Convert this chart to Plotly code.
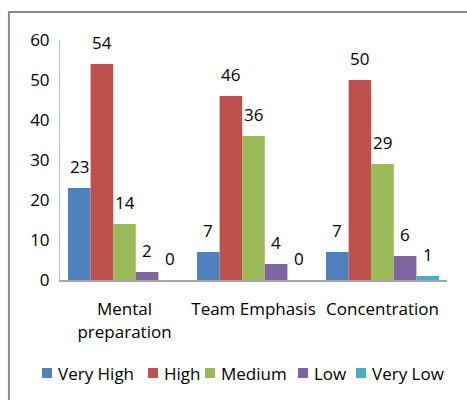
import plotly.graph_objects as go

categories = ["Mental<br>preparation", "Team Emphasis", "Concentration"]
series_names = ["Very High", "High", "Medium", "Low", "Very Low"]
very_high = [23, 7, 7]
high = [54, 46, 50]
medium = [14, 36, 29]
low = [2, 4, 6]
very_low = [0, 0, 1]
y_ticks = [0, 10, 20, 30, 40, 50, 60]

colors = ["#4F81BD", "#C0504D", "#9BBB59", "#8064A2", "#4BACC6"]
values = [very_high, high, medium, low, very_low]

FONT = "Open Sans, sans-serif"
FS = 17
BARGAP = 0.124
W, H = 467, 400
ML, MR, MT, MB = 60, 20, 40, 120
PW, PH = W - ML - MR, H - MT - MB

fig = go.Figure()
for name, vals, c in zip(series_names, values, colors):
    fig.add_trace(go.Bar(
        x=categories, y=vals, name=name, marker_color=c,
        marker_line_width=0, showlegend=False,
    ))

# data labels above each bar, placed through the axis scales
n = len(series_names)
bw = (1 - BARGAP) / n
annotations = []
for i, vals in enumerate(values):
    for j, v in enumerate(vals):
        annotations.append(dict(
            x=j + (i - (n - 1) / 2) * bw, y=v, xref="x", yref="y",
            text=str(v), showarrow=False, yanchor="middle", yshift=22,
            font=dict(size=FS, color="#000000", family=FONT),
        ))

# legend (drawn manually to keep the single tight row)
leg_sq_x = [42, 148, 205, 298, 356]
leg_y_top, leg_y_bot = 368, 378
shapes = [dict(type="rect", xref="paper", yref="paper",
               x0=-0.132, x1=1.3, y0=-0.8, y1=1.1167,
               line=dict(color="#8C8C8C", width=2), fillcolor="rgba(0,0,0,0)")]
for name, c, sx in zip(series_names, colors, leg_sq_x):
    shapes.append(dict(type="rect", xref="paper", yref="paper",
                       x0=(sx - ML) / PW, x1=(sx + 10 - ML) / PW,
                       y0=(MT + PH - leg_y_bot) / PH, y1=(MT + PH - leg_y_top) / PH,
                       line=dict(width=0), fillcolor=c))
    annotations.append(dict(
        x=(sx + 14 - ML) / PW, y=(MT + PH - (leg_y_top + leg_y_bot) / 2) / PH,
        xref="paper", yref="paper", xanchor="left", yanchor="middle",
        text=name, showarrow=False,
        font=dict(size=FS, color="#000000", family=FONT),
    ))

fig.update_layout(
    width=W, height=H,
    margin=dict(l=ML, r=MR, t=MT, b=MB, autoexpand=False),
    paper_bgcolor="white", plot_bgcolor="white",
    barmode="group", bargap=BARGAP, bargroupgap=0,
    font=dict(family=FONT, size=FS, color="#000000"),
    showlegend=False,
    xaxis=dict(showline=True, linecolor="#A6A6A6", linewidth=2, showgrid=False,
               ticks="", ticklabelstandoff=13, tickfont=dict(size=FS)),
    yaxis=dict(range=[0, 60], tickvals=y_ticks, showline=True, linecolor="#BFBFBF",
               linewidth=1, showgrid=False, zeroline=False, ticks="outside",
               ticklen=0, tickcolor="rgba(0,0,0,0)",
               ticklabelstandoff=6, tickfont=dict(size=FS)),
    shapes=shapes,
    annotations=annotations,
)

fig.write_html("out.html")
